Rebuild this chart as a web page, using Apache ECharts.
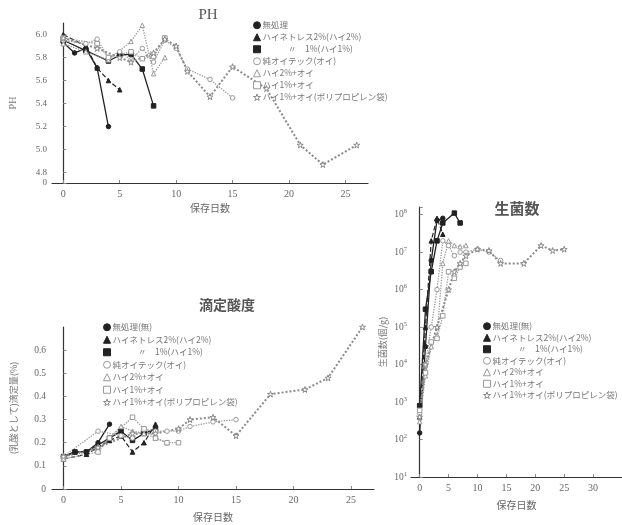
<!DOCTYPE html>
<html>
<head>
<meta charset="utf-8">
<script src="https://cdn.jsdelivr.net/npm/echarts@6/dist/echarts.min.js"></script>
<style>
  html, body { margin: 0; padding: 0; background: #fff; }
  #chart { width: 622px; height: 525px; }
</style>
</head>
<body>
<div id="chart"></div>
<script>
// 凡例（3図共通）
const names = [
  '無処理(無)',
  'ハイネトレス2%(ハイ2%)',
  '　　　〃　1%(ハイ1%)',
  '純オイテック(オイ)',
  'ハイ2%+オイ',
  'ハイ1%+オイ',
  'ハイ1%+オイ(ポリプロピレン袋)'
];

// 目盛
const dayTicks = [0, 5, 10, 15, 20, 25];
const dayTicksB = [0, 5, 10, 15, 20, 25, 30];
const phTickValues = [4.71, 4.8, 5.0, 5.2, 5.4, 5.6, 5.8, 6.0];
const phTickLabels = ['0', '4.8', '5.0', '5.2', '5.4', '5.6', '5.8', '6.0'];
const acidTicks = [0, 0.1, 0.2, 0.3, 0.4, 0.5, 0.6];

// PH  [日数, pH]
const phNone = [[0, 5.93], [1, 5.84], [2, 5.88], [3, 5.71], [4, 5.20]];
const phHi2 = [[0, 6.00], [2, 5.90], [3, 5.71], [4, 5.60], [5, 5.52]];
const phHi1 = [[0, 5.95], [2, 5.86], [4, 5.77], [5, 5.82], [6, 5.83], [7, 5.70], [8, 5.38]];
const phOi = [[0, 5.95], [2, 5.92], [3, 5.96], [4, 5.80], [5, 5.85], [6, 5.78], [7, 5.88], [8, 5.76], [9, 5.95], [10, 5.88], [11, 5.70], [13, 5.61], [15, 5.45]];
const phHi2Oi = [[0, 5.92], [2, 5.85], [4, 5.78], [6, 5.94], [7, 6.08], [8, 5.66], [9, 5.80]];
const phHi1Oi = [[0, 5.97], [3, 5.92], [4, 5.80], [6, 5.85], [7, 5.79], [8, 5.81], [9, 5.97]];
const phPP = [[0, 5.97], [3, 5.88], [5, 5.80], [6, 5.76], [8, 5.84], [9, 5.96], [10, 5.90], [11, 5.68], [13, 5.46], [15, 5.72], [18, 5.53], [21, 5.04], [23, 4.87], [26, 5.04]];

// 滴定酸度  [日数, %]
const acNone = [[0, 0.14], [1, 0.16], [2, 0.16], [3, 0.20], [4, 0.28]];
const acHi2 = [[0, 0.13], [2, 0.15], [4, 0.21], [5, 0.23], [6, 0.16], [7, 0.20], [8, 0.28]];
const acHi1 = [[0, 0.14], [1, 0.16], [2, 0.16], [4, 0.22], [5, 0.25], [6, 0.21], [7, 0.24], [8, 0.26]];
const acOi = [[0, 0.14], [3, 0.25], [5, 0.23], [6, 0.22], [7, 0.26], [8, 0.25], [9, 0.25], [10, 0.25], [11, 0.27], [13, 0.29], [15, 0.30]];
const acHi2Oi = [[0, 0.14], [3, 0.17], [5, 0.27], [6, 0.25], [7, 0.24], [8, 0.22], [9, 0.20]];
const acHi1Oi = [[0, 0.13], [3, 0.16], [4, 0.22], [6, 0.31], [7, 0.26], [8, 0.22], [9, 0.20], [10, 0.20]];
const acPP = [[0, 0.14], [3, 0.18], [6, 0.24], [8, 0.24], [10, 0.26], [11, 0.30], [13, 0.31], [15, 0.23], [18, 0.41], [21, 0.43], [23, 0.48], [26, 0.70]];

// 生菌数  [日数, 個/g]
const bcNone = [[0, 1.5e2], [1, 3e4], [2, 6e6], [3, 7e7], [4, 8e7]];
const bcHi2 = [[0, 4e2], [1, 1e5], [2, 2e7], [3, 8e7], [4, 3e7]];
const bcHi1 = [[0, 8e2], [1, 3e5], [2, 3e6], [3, 2e7], [4, 6e7], [6, 1.1e8], [7, 6e7]];
const bcOi = [[0, 5e2], [1, 1e4], [2, 1e5], [3, 1e6], [4, 2e7], [5, 1.5e7], [6, 8e6], [7, 1e7], [8, 1e7], [10, 1.2e7], [12, 1e7], [14, 6e6]];
const bcHi2Oi = [[0, 3e2], [1, 5e3], [2, 3e4], [3, 6e4], [4, 5e6], [5, 2e7], [6, 1.5e7], [7, 1.4e7], [8, 1.5e7]];
const bcHi1Oi = [[0, 6e2], [1, 6e3], [2, 4e4], [3, 5e4], [4, 2e5], [5, 3e6], [6, 2e6], [7, 4e6], [8, 5e6]];
const bcPP = [[0, 4e2], [1, 1e4], [3, 1e5], [5, 1e6], [6, 3e6], [7, 5e6], [8, 8e6], [10, 1.2e7], [12, 1.1e7], [14, 5e6], [18, 5e6], [21, 1.5e7], [23, 1.1e7], [25, 1.2e7]];

const phData = [phNone, phHi2, phHi1, phOi, phHi2Oi, phHi1Oi, phPP];
const acData = [acNone, acHi2, acHi1, acOi, acHi2Oi, acHi1Oi, acPP];
const bcData = [bcNone, bcHi2, bcHi1, bcOi, bcHi2Oi, bcHi1Oi, bcPP];

const STAR = 'path://M50,0 L61,35 L98,35 L68,57 L79,91 L50,70 L21,91 L32,57 L2,35 L39,35 Z';
const looks = [
  { color: '#222', fill: '#222', symbol: 'circle', type: 'solid', width: 1.3 },
  { color: '#222', fill: '#222', symbol: 'triangle', type: 'dashed', width: 1.2 },
  { color: '#222', fill: '#222', symbol: 'rect', type: 'solid', width: 1.3 },
  { color: '#9a9a9a', fill: '#fff', symbol: 'circle', type: 'dotted', width: 1.3 },
  { color: '#9a9a9a', fill: '#fff', symbol: 'triangle', type: 'dotted', width: 1.3 },
  { color: '#9a9a9a', fill: '#fff', symbol: 'rect', type: 'dotted', width: 1.3 },
  { color: '#8a8a8a', fill: '#fff', symbol: STAR, type: 'dotted', width: 2 }
];

const jp = '"Noto Sans CJK JP", "Noto Sans", sans-serif';
const num = '"Liberation Serif", "DejaVu Serif", serif';
const axisCol = '#333';
const labelCol = '#666';

function makeSeries(list, idx) {
  return list.map((d, i) => ({
    type: 'line',
    name: names[i],
    xAxisIndex: idx,
    yAxisIndex: idx,
    data: d,
    symbol: looks[i].symbol,
    symbolSize: i === 6 ? 6 : 4.5,
    itemStyle: { color: looks[i].fill, borderColor: looks[i].color, borderWidth: 1 },
    lineStyle: { color: looks[i].color, type: looks[i].type, width: looks[i].width },
    emphasis: { disabled: true },
    animation: false
  }));
}

function legendAt(left, top, gap, fmt) {
  return {
    orient: 'vertical',
    left: left,
    top: top,
    itemWidth: 7,
    itemHeight: 7,
    itemGap: gap,
    selectedMode: false,
    textStyle: { fontFamily: jp, fontSize: 8.5, color: '#777', padding: [0, 0, 0, -3] },
    formatter: fmt,
    data: names.map((n, i) => ({
      name: n,
      icon: looks[i].symbol,
      itemStyle: { color: looks[i].fill, borderColor: looks[i].color, borderWidth: 1 }
    }))
  };
}

function xAxisAt(idx, min, max, ticks, gap) {
  return {
    gridIndex: idx,
    type: 'value',
    min: min,
    max: max,
    name: '保存日数',
    nameLocation: 'middle',
    nameGap: gap,
    nameTextStyle: { fontFamily: jp, fontSize: 10, color: '#666' },
    axisLine: { onZero: false, lineStyle: { color: axisCol, width: 1.2 } },
    axisTick: { inside: true, length: 3, customValues: ticks, lineStyle: { color: '#888' } },
    axisLabel: { customValues: ticks, fontFamily: num, fontSize: 10, color: labelCol, margin: 6 },
    splitLine: { show: false }
  };
}

const option = {
  backgroundColor: '#fff',
  animation: false,
  graphic: [
    { type: 'text', x: 208, y: 15, style: { text: 'PH', fontFamily: num, fontSize: 15, fill: '#555', align: 'center', verticalAlign: 'middle' } },
    { type: 'text', x: 227, y: 305, style: { text: '滴定酸度', fontFamily: jp, fontSize: 14, fontWeight: 'bold', fill: '#555', align: 'center', verticalAlign: 'middle' } },
    { type: 'text', x: 517, y: 208, style: { text: '生菌数', fontFamily: jp, fontSize: 15, fontWeight: 'bold', fill: '#555', align: 'center', verticalAlign: 'middle' } }
  ],
  legend: [
    legendAt(248, 16, 3.5, n => (n === names[0] ? '無処理' : n)),
    legendAt(98, 318, 4, n => n),
    legendAt(478, 317, 3, n => n)
  ],
  grid: [
    { left: 45, top: 23, width: 323, height: 160 },
    { left: 52, top: 327, width: 322, height: 162 },
    { left: 411, top: 207, width: 211, height: 270 }
  ],
  xAxis: [
    xAxisAt(0, -1, 27, dayTicks, 20),
    xAxisAt(1, -1, 27, dayTicks, 23),
    xAxisAt(2, -1.5, 35, dayTicksB, 23)
  ],
  yAxis: [
    {
      gridIndex: 0, type: 'value', min: 4.71, max: 6.1,
      name: 'PH', nameLocation: 'middle', nameGap: 34, nameRotate: 90,
      nameTextStyle: { fontFamily: num, fontSize: 10, color: '#777' },
      axisLine: { show: true, lineStyle: { color: axisCol, width: 1.2 } },
      axisTick: { show: true, inside: true, length: 3, customValues: phTickValues, lineStyle: { color: '#888' } },
      axisLabel: {
        customValues: phTickValues, showMinLabel: true, hideOverlap: false,
        fontFamily: num, fontSize: 9, color: labelCol, margin: 5,
        formatter: v => {
          const k = phTickValues.findIndex(t => Math.abs(t - v) < 1e-6);
          return k >= 0 ? phTickLabels[k] : '';
        }
      },
      splitLine: { show: false }
    },
    {
      gridIndex: 1, type: 'value', min: 0, max: 0.7,
      name: '(乳酸として)滴定量(%)', nameLocation: 'middle', nameGap: 34, nameRotate: 90,
      nameTextStyle: { fontFamily: jp, fontSize: 9, color: '#777' },
      axisLine: { show: true, lineStyle: { color: axisCol, width: 1.2 } },
      axisTick: { show: true, inside: true, length: 3, customValues: acidTicks, lineStyle: { color: '#888' } },
      axisLabel: {
        customValues: acidTicks, fontFamily: num, fontSize: 9.5, color: labelCol, margin: 6,
        formatter: v => (v === 0 ? '0' : v.toFixed(1))
      },
      splitLine: { show: false }
    },
    {
      gridIndex: 2, type: 'log', logBase: 10, min: 10, max: 1.6e8,
      name: '生菌数(個/g)', nameLocation: 'middle', nameGap: 24, nameRotate: 90,
      nameTextStyle: { fontFamily: jp, fontSize: 9, color: '#777' },
      axisLine: { show: true, lineStyle: { color: axisCol, width: 1.2 } },
      axisTick: { show: true, inside: true, length: 3, lineStyle: { color: '#888' } },
      axisLabel: {
        fontFamily: num, fontSize: 9.5, color: labelCol, margin: 4,
        formatter: v => {
          const e = Math.round(Math.log10(v));
          if (Math.abs(Math.log10(v) - e) > 1e-6) return '';
          return '10{s|' + e + '}';
        },
        rich: { s: { fontSize: 6.5, verticalAlign: 'top', padding: [0, 0, 6, 0], fontFamily: num, color: labelCol } }
      },
      splitLine: { show: false }
    }
  ],
  series: [].concat(makeSeries(phData, 0), makeSeries(acData, 1), makeSeries(bcData, 2))
};

const chart = echarts.init(document.getElementById('chart'), null, { renderer: 'canvas' });
chart.setOption(option);
</script>
</body>
</html>
